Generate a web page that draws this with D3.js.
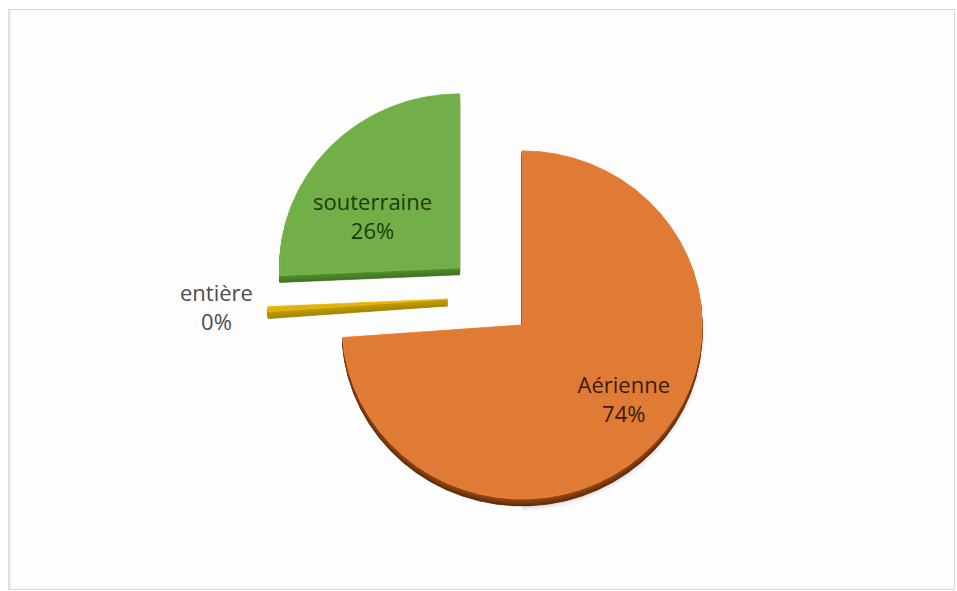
<!DOCTYPE html>
<html>
<head>
<meta charset="utf-8">
<script src="https://cdn.jsdelivr.net/npm/d3@7"></script>
<style>
  html, body { margin: 0; padding: 0; background: #ffffff; }
  svg { display: block; }
  text { font-family: "Open Sans", "DejaVu Sans", sans-serif; }
</style>
</head>
<body>
<svg id="chart" width="957" height="591"></svg>
<script>
// Répartition par type (parts en %)
const categories = ["Aérienne", "entière", "souterraine"];
const shares = [73.85, 0.45, 25.7];

const svg = d3.select("#chart");

// chart frame
svg.append("rect")
  .attr("x", 8.5).attr("y", 9.5)
  .attr("width", 946).attr("height", 580)
  .attr("fill", "#fdfdfd")
  .attr("stroke", "#d6d6d6")
  .attr("stroke-width", 1);
svg.append("line")
  .attr("x1", 9.5).attr("y1", 10).attr("x2", 9.5).attr("y2", 589)
  .attr("stroke", "#e6e6e6").attr("stroke-width", 2);

// pie geometry: slightly tilted disc, every slice pulled out from the centre
const cx = 490.6, cy = 296.6;
const R = 180;
const squash = 0.967;
const explode = 43;
const depth = 7;

const topColor = d3.scaleOrdinal(categories, ["#e07b36", "#dfb20e", "#73af49"]);
const sideColor = d3.scaleOrdinal(categories, ["#9a4c18", "#c69f00", "#55902f"]);
const sideDark = d3.scaleOrdinal(categories, ["#5e2a0a", "#a38300", "#3f7222"]);
const labelColor = d3.scaleOrdinal(categories, ["#3a1c08", "#4d4d4d", "#1f3b0d"]);

const pie = d3.pie().sort(null).value(d => d.share);
const arcs = pie(categories.map((c, i) => ({ name: c, share: shares[i] })));
const arc = d3.arc().innerRadius(0).outerRadius(R);

const mid = d => (d.startAngle + d.endAngle) / 2;
const offsetOf = d => [explode * Math.sin(mid(d)), -explode * Math.cos(mid(d)) * squash];

// draw from the back (top of the picture) towards the front
const order = arcs.slice().sort((a, b) => offsetOf(a)[1] - offsetOf(b)[1]);

const defs = svg.append("defs");
const shadow = defs.append("filter").attr("id", "soft")
  .attr("filterUnits", "userSpaceOnUse")
  .attr("x", 0).attr("y", 0).attr("width", 957).attr("height", 591);
shadow.append("feGaussianBlur").attr("stdDeviation", 2.2);

const pieG = svg.append("g");

// soft shadow under each slice
pieG.selectAll("path.shadow")
  .data(order)
  .join("path")
  .attr("class", "shadow")
  .attr("d", arc)
  .attr("transform", d => {
    const [dx, dy] = offsetOf(d);
    return `translate(${cx + dx},${cy + dy + depth + 2}) scale(1,${squash})`;
  })
  .attr("fill", "#000")
  .attr("opacity", 0.16)
  .attr("filter", "url(#soft)");

order.forEach(d => {
  const [dx, dy] = offsetOf(d);
  const g = pieG.append("g");
  // extruded side walls, built from closely stacked copies of the slice
  const steps = d3.range(depth, 0, -0.5);
  g.selectAll("path.side")
    .data(steps)
    .join("path")
    .attr("class", "side")
    .attr("d", arc(d))
    .attr("transform", k => `translate(${cx + dx},${cy + dy + k}) scale(1,${squash})`)
    .attr("fill", k => d3.interpolateRgb(sideColor(d.data.name), sideDark(d.data.name))(k / depth))
    .attr("stroke", k => d3.interpolateRgb(sideColor(d.data.name), sideDark(d.data.name))(k / depth))
    .attr("stroke-width", 0.6);
  // top face
  g.append("path")
    .attr("d", arc(d))
    .attr("transform", `translate(${cx + dx},${cy + dy}) scale(1,${squash})`)
    .attr("fill", topColor(d.data.name))
    .attr("stroke", d3.color(topColor(d.data.name)).brighter(0.2))
    .attr("stroke-width", 0.8);
});

// data labels: name + rounded percentage
const pct = d3.format(".0f");
const total = d3.sum(shares);
// label anchor as a fraction of the radius along the slice bisector, plus a small layout nudge
const labelLayout = {
  "Aérienne":    { r: 0.62, nx: 20, ny: 2 },
  "souterraine": { r: 0.50, nx: -22, ny: 9 },
  "entière":     { r: 1.27, nx: -3, ny: -4 }
};
const lineH = 29;

svg.append("g").selectAll("text")
  .data(arcs)
  .join("text")
  .attr("text-anchor", "middle")
  .attr("font-size", 22)
  .attr("fill", d => labelColor(d.data.name))
  .each(function (d) {
    const L = labelLayout[d.data.name];
    const [dx, dy] = offsetOf(d);
    const a = mid(d);
    const x = cx + dx + L.r * R * Math.sin(a) + L.nx;
    const y = cy + dy - L.r * R * Math.cos(a) * squash + L.ny;
    const t = d3.select(this);
    t.append("tspan").attr("x", x).attr("y", y - lineH / 2 + 7.5).text(d.data.name);
    t.append("tspan").attr("x", x).attr("y", y + lineH / 2 + 7.5)
      .text(pct(d.data.share / total * 100) + "%");
  });
</script>
</body>
</html>
